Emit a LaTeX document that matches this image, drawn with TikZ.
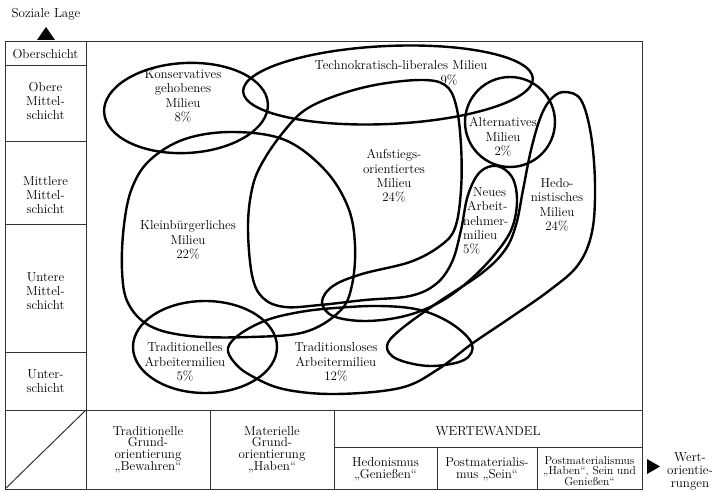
\documentclass[tikz,border=0pt]{standalone}
\usepackage{tikz}
\usetikzlibrary{positioning}
\definecolor{smFrame}{HTML}{333333}
\tikzset{
    smGrid/.style={draw=smFrame, line width=1pt},
    smLine/.style={draw=black, line width=2.4pt},
    smText/.style={align=center, inner sep=0pt, font=\fontsize{13}{14.3}\selectfont},
    smCell/.style={align=center, inner sep=0pt, font=\fontsize{13}{11.7}\selectfont},
    smSmall/.style={align=center, inner sep=0pt, font=\fontsize{11.5}{10.8}\selectfont}
}
\begin{document}
\begin{tikzpicture}[x=1pt, y=-1pt]
    \useasboundingbox (0,0) rectangle (721,492);

    % frame and grid
    \draw[smGrid] (5,42) rectangle (642,489);
    \draw[smGrid] (86,42) -- (86,489);
    \foreach \yy in {66,142,225,352}
        \draw[smGrid] (5,\yy) -- (86,\yy);
    \draw[smGrid] (5,410) -- (642,410);
    \draw[smGrid] (210,410) -- (210,489);
    \draw[smGrid] (334,410) -- (334,489);
    \draw[smGrid] (334,447) -- (642,447);
    \draw[smGrid] (437,447) -- (437,489);
    \draw[smGrid] (537,447) -- (537,489);
    \draw[smGrid] (5,489) -- (86,410);

    % axes
    \node[smText] (sozialeLage) at (46,14) {Soziale Lage};
    \fill (37,40) -- (55,40) -- (46,27) -- cycle;
    \fill (647,459) -- (647,474) -- (660,466.5) -- cycle;
    \node[smText, font=\fontsize{13}{13}\selectfont] (wertLabel) at (690,471) {Wert-\\orientie-\\rungen};

    % social layers
    \node[smText] (oberschicht) at (45.5,54) {Oberschicht};
    \node[smText] (obereMS) at (45.5,101) {Obere\\Mittel-\\schicht};
    \node[smText] (mittlereMS) at (45.5,195) {Mittlere\\Mittel-\\schicht};
    \node[smText] (untereMS) at (45.5,291) {Untere\\Mittel-\\schicht};
    \node[smText] (unterschicht) at (45.5,381) {Unter-\\schicht};

    % value orientations
    \node[smCell] (bewahren) at (148,449.5) {Traditionelle\\Grund-\\orientierung\\„Bewahren“};
    \node[smCell] (haben) at (272,449.5) {Materielle\\Grund-\\orientierung\\„Haben“};
    \node[smCell] (wertewandel) at (488,431) {WERTEWANDEL};
    \node[smCell] (geniessen) at (385.5,469) {Hedonismus\\„Genießen“};
    \node[smCell] (sein) at (487,469) {Postmaterialis-\\mus „Sein“};
    \node[smSmall] (habenSein) at (589.5,471) {Postmaterialismus\\„Haben“, Sein und\\Genießen“};

    % milieus
    \draw[smLine, rotate around={3:(186,108)}] (186,108) ellipse [x radius=82, y radius=45];
    \draw[smLine, rotate around={2.6:(388,85)}] (388,85) ellipse [x radius=145, y radius=39];
    \draw[smLine] (510,122) circle [radius=45];
    \draw[smLine] (205,347) ellipse [x radius=72, y radius=46];
    \draw[smLine] plot[smooth cycle, tension=0.6] coordinates {
        (122,270) (124,225) (132,188) (150,160) (185,139) (233,132) (285,140)
        (325,170) (348,207) (355,245) (352,285) (340,311) (305,332) (250,337)
        (190,336) (150,326) (128,303)};
    \draw[smLine] plot[smooth cycle, tension=0.6] coordinates {
        (420,80) (445,85) (456,105) (461,145) (461,190) (455,228) (440,246)
        (410,262) (362,274) (333,286) (322,302) (333,316) (365,321) (405,316)
        (440,302) (470,280) (496,253) (512,228) (517,200) (512,177) (497,166)
        (480,172) (468,195) (461,230) (452,262) (436,284) (410,296) (365,300)
        (320,305) (285,307) (263,298) (252,275) (248,225) (253,185) (265,158)
        (285,130) (305,110) (335,96) (375,85)};
    \draw[smLine] plot[smooth cycle, tension=0.6] coordinates {
        (228,348) (240,334) (267,320) (300,312) (335,308) (380,306) (420,310)
        (452,324) (472,344) (464,360) (430,366) (397,359) (387,346) (400,330)
        (437,303) (482,273) (505,250) (516,225) (523,190) (531,150) (541,116)
        (552,98) (565,92) (581,100) (591,135) (595,185) (592,232) (578,265)
        (550,290) (510,318) (473,343) (437,370) (400,388) (335,394) (283,389)
        (250,375) (234,362)};

    % milieu labels
    \node[smText] (konservativLabel) at (183,96) {Konservatives\\gehobenes\\Milieu\\8\%};
    \node[smText] (technoLabel) at (401,65) {Technokratisch-liberales Milieu};
    \node[smText] (technoShare) at (449,80) {9\%};
    \node[smText] (alternativLabel) at (503,137) {Alternatives\\Milieu\\2\%};
    \node[smText] (aufstiegLabel) at (394,176) {Aufstiegs-\\orientiertes\\Milieu\\24\%};
    \node[smText] (kleinbuergerLabel) at (188,240) {Kleinbürgerliches\\Milieu\\22\%};
    \node[smText, align=left, anchor=west] (neuesLabel) at (463,221)
        {\hspace*{10pt}Neues\\\hspace*{4pt}Arbeit-\\nehmer-\\milieu\\5\%};
    \node[smText] (hedonLabel) at (557,205) {Hedo-\\nistisches\\Milieu\\24\%};
    \node[smText] (tradArbLabel) at (185,362) {Traditionelles\\Arbeitermilieu\\5\%};
    \node[smText] (traditionslosLabel) at (336,362) {Traditionsloses\\Arbeitermilieu\\12\%};
\end{tikzpicture}
\end{document}
